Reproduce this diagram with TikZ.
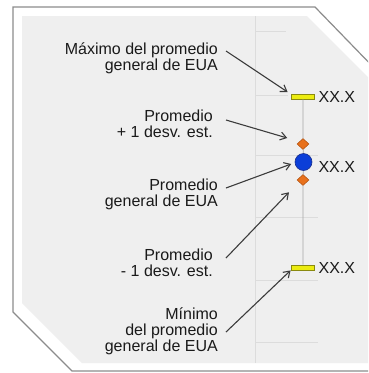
\documentclass[tikz,border=0pt]{standalone}
\usepackage{fontspec}
\setmainfont{Liberation Sans}
\usepackage{xcolor}
\usepackage{tikz}
\usetikzlibrary{positioning,arrows.meta,shapes.geometric}

\definecolor{framegray}{HTML}{8C8C8C}
\definecolor{panelgray}{HTML}{EFEFEF}
\definecolor{gridgray}{HTML}{DCDCDC}
\definecolor{axisgray}{HTML}{A8A8A8}
\definecolor{arrowgray}{HTML}{3C3C3C}
\definecolor{textgray}{HTML}{1A1A1A}
\definecolor{baryellow}{HTML}{ECEC10}
\definecolor{barolive}{HTML}{8A8A10}
\definecolor{meanblue}{HTML}{0B3ED8}
\definecolor{meanedge}{HTML}{1B2F8A}
\definecolor{sdorange}{HTML}{E8711C}
\definecolor{sdedge}{HTML}{B0500E}

\begin{document}
\begin{tikzpicture}[
    x=1pt, y=-1pt,
    font=\fontsize{16}{15.5}\selectfont,
    >={Straight Barb[length=6pt,width=8pt]},
    callout/.style={align=right, anchor=base east, inner sep=0pt, text=textgray},
    valtext/.style={inner sep=0pt, text=textgray},
    rangebar/.style={draw=barolive, fill=baryellow, rectangle, minimum width=23pt, minimum height=5pt, inner sep=0pt, line width=0.8pt},
    meandot/.style={draw=meanedge, fill=meanblue, circle, minimum size=17pt, inner sep=0pt, line width=0.6pt},
    sdpoint/.style={draw=sdedge, fill=sdorange, diamond, minimum width=12pt, minimum height=11pt, inner sep=0pt, line width=0.5pt},
    pointer/.style={->, draw=arrowgray, line width=1.1pt},
    gridline/.style={draw=gridgray, line width=0.7pt}
]
\useasboundingbox (0,0) rectangle (368,373);
\clip (0,0) rectangle (368,373);

% marco
\draw[framegray, line width=1.2pt, fill=white] (13,7) -- (315,7) -- (380,74) -- (380,371) -- (72,371) -- (13,312) -- cycle;
\fill[panelgray] (22,16) -- (307,16) -- (380,89) -- (380,363) -- (82,363) -- (22,303) -- cycle;

% rejilla
\draw[gridline] (255,16) -- (255,363);
\draw[gridline] (255,31) -- (286,31);
\draw[gridline] (255,95) -- (288,95);
\draw[gridline] (255,155) -- (318,155);
\draw[gridline] (255,217) -- (318,217);
\draw[gridline] (255,280) -- (318,280);
\draw[gridline] (255,342) -- (318,342);

% marcadores
\node[rangebar] (barmax) at (303,96.5) {};
\node[sdpoint] (sdup) at (303,144) {};
\node[meandot] (mean) at (303.5,162) {};
\node[sdpoint] (sdlow) at (303,180) {};
\node[rangebar] (barmin) at (303,267.5) {};

% eje
\draw[axisgray, line width=0.8pt] (barmax) -- (sdup) -- (mean) -- (sdlow) -- (barmin);

% valores
\node[valtext, right=3.5pt of barmax] (valmax) {XX.X};
\node[valtext, right=6pt of mean, yshift=-5pt] (valmean) {XX.X};
\node[valtext, right=3.5pt of barmin] (valmin) {XX.X};

% textos (base = ultima linea)
\node[callout] (lblmax) at (218,70) {Máximo del promedio\\general de EUA};
\node[callout] (lblsup) at (213,137) {Promedio\\+ 1 desv. est.};
\node[callout] (lblmean) at (218,206) {Promedio\\general de EUA};
\node[callout] (lblinf) at (213,276) {Promedio\\- 1 desv. est.};
\node[callout, font=\fontsize{16}{16}\selectfont] (lblmin) at (218,351) {Mínimo\\del promedio\\general de EUA};

% flechas
\draw[pointer] ([shift={(8,-19)}]lblmax.base east) -- ([shift={(-3.5,-4.5)}]barmax.west);
\draw[pointer] ([shift={(13,-17)}]lblsup.base east) -- ([shift={(-9.5,-6)}]sdup.west);
\draw[pointer] ([shift={(8,-18)}]lblmean.base east) -- ([shift={(-3.5,2)}]mean.west);
\draw[pointer] ([shift={(13,-18)}]lblinf.base east) -- ([shift={(-14,6.5)}]sdlow.south);
\draw[pointer] ([shift={(8,-19)}]lblmin.base east) -- ([shift={(-0.5,0)}]barmin.south west);

\end{tikzpicture}
\end{document}
